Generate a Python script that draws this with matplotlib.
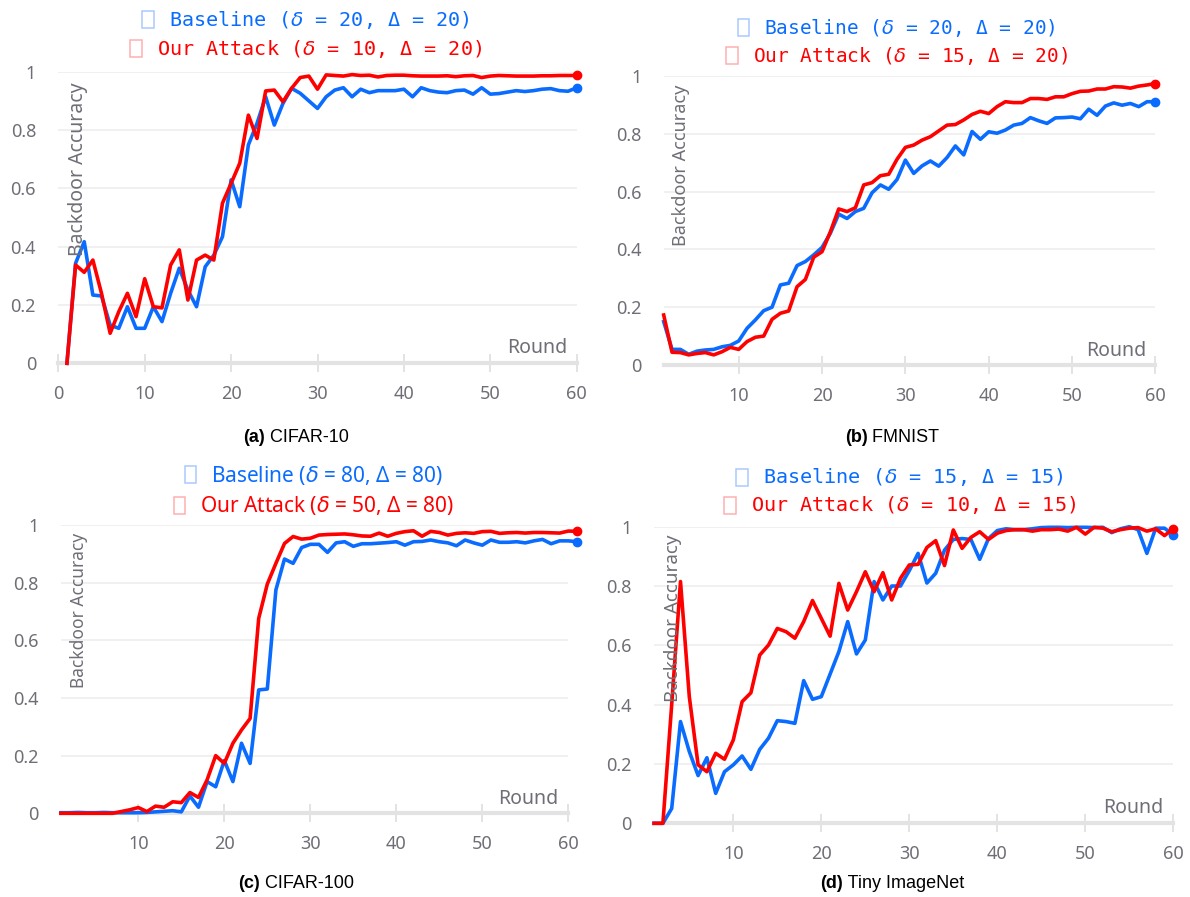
import matplotlib
matplotlib.use("Agg")
import matplotlib.pyplot as plt
from matplotlib.patches import Rectangle

# Backdoor accuracy per training round, four datasets
rounds_60 = list(range(1, 61))
rounds_61 = list(range(1, 62))

cifar10_baseline = [
    0.0, 0.343, 0.417, 0.234, 0.231, 0.131, 0.12, 0.194, 0.12, 0.12,
    0.194, 0.143, 0.24, 0.326, 0.251, 0.194, 0.331, 0.371, 0.434, 0.629,
    0.537, 0.749, 0.823, 0.914, 0.817, 0.891, 0.943, 0.926, 0.90, 0.874,
    0.914, 0.937, 0.945, 0.914, 0.94, 0.928, 0.935, 0.935, 0.935, 0.94,
    0.914, 0.945, 0.935, 0.93, 0.928, 0.935, 0.937, 0.923, 0.945, 0.923,
    0.925, 0.93, 0.935, 0.932, 0.935, 0.94, 0.942, 0.935, 0.933, 0.945,
]
cifar10_attack = [
    0.0, 0.337, 0.312, 0.354, 0.24, 0.103, 0.177, 0.24, 0.16, 0.29,
    0.194, 0.19, 0.337, 0.389, 0.217, 0.354, 0.371, 0.354, 0.549, 0.617,
    0.686, 0.851, 0.771, 0.934, 0.937, 0.897, 0.943, 0.98, 0.985, 0.94,
    0.989, 0.987, 0.985, 0.99, 0.987, 0.988, 0.982, 0.987, 0.988, 0.988,
    0.986, 0.985, 0.985, 0.985, 0.986, 0.983, 0.986, 0.987, 0.98, 0.985,
    0.987, 0.986, 0.985, 0.985, 0.985, 0.986, 0.986, 0.987, 0.987, 0.987,
]

fmnist_baseline = [
    0.15, 0.054, 0.054, 0.037, 0.048, 0.052, 0.054, 0.063, 0.068, 0.083,
    0.127, 0.156, 0.188, 0.2, 0.277, 0.283, 0.344, 0.358, 0.381, 0.407,
    0.456, 0.522, 0.507, 0.531, 0.542, 0.596, 0.623, 0.608, 0.642, 0.709,
    0.663, 0.689, 0.706, 0.688, 0.718, 0.758, 0.727, 0.808, 0.781, 0.807,
    0.802, 0.813, 0.83, 0.836, 0.856, 0.845, 0.836, 0.855, 0.856, 0.858,
    0.852, 0.885, 0.864, 0.896, 0.907, 0.899, 0.905, 0.894, 0.911, 0.911,
]
fmnist_attack = [
    0.173, 0.044, 0.043, 0.035, 0.04, 0.043, 0.035, 0.046, 0.061, 0.054,
    0.081, 0.096, 0.1, 0.158, 0.179, 0.187, 0.271, 0.296, 0.373, 0.392,
    0.461, 0.54, 0.531, 0.544, 0.623, 0.631, 0.655, 0.66, 0.712, 0.753,
    0.761, 0.778, 0.79, 0.81, 0.83, 0.832, 0.848, 0.867, 0.878, 0.87,
    0.894, 0.911, 0.908, 0.908, 0.922, 0.922, 0.919, 0.928, 0.928, 0.939,
    0.947, 0.948, 0.955, 0.955, 0.963, 0.962, 0.958, 0.965, 0.969, 0.974,
]

cifar100_baseline = [
    0.002, 0.002, 0.003, 0.002, 0.002, 0.003, 0.002, 0.002, 0.002, 0.002,
    0.003, 0.005, 0.007, 0.009, 0.005, 0.06, 0.021, 0.11, 0.092, 0.183,
    0.11, 0.243, 0.173, 0.428, 0.431, 0.775, 0.882, 0.867, 0.922, 0.933,
    0.933, 0.905, 0.938, 0.942, 0.926, 0.935, 0.935, 0.937, 0.939, 0.942,
    0.93, 0.942, 0.943, 0.948, 0.942, 0.938, 0.928, 0.948, 0.938, 0.93,
    0.948, 0.94, 0.94, 0.942, 0.938, 0.945, 0.95, 0.935, 0.945, 0.945,
    0.942,
]
cifar100_attack = [
    0.0, 0.0, 0.0, 0.0, 0.0, 0.0, 0.0, 0.006, 0.012, 0.02,
    0.006, 0.025, 0.021, 0.04, 0.037, 0.072, 0.055, 0.116, 0.2, 0.173,
    0.243, 0.289, 0.329, 0.676, 0.795, 0.867, 0.936, 0.96, 0.951, 0.954,
    0.965, 0.967, 0.968, 0.969, 0.966, 0.962, 0.961, 0.972, 0.961, 0.971,
    0.977, 0.98, 0.961, 0.978, 0.974, 0.965, 0.971, 0.973, 0.971, 0.977,
    0.978, 0.971, 0.973, 0.974, 0.972, 0.974, 0.974, 0.973, 0.972, 0.979,
    0.978,
]

tiny_baseline = [
    0.0, 0.0, 0.05, 0.343, 0.242, 0.161, 0.221, 0.101, 0.174, 0.197,
    0.227, 0.182, 0.249, 0.287, 0.346, 0.343, 0.337, 0.481, 0.418, 0.427,
    0.503, 0.579, 0.68, 0.571, 0.618, 0.815, 0.753, 0.8, 0.8, 0.852,
    0.91, 0.81, 0.843, 0.921, 0.957, 0.96, 0.957, 0.89, 0.96, 0.987,
    0.993, 0.99, 0.99, 0.993, 0.997, 0.998, 0.998, 0.997, 0.998, 0.998,
    0.997, 0.998, 0.98, 0.993, 1.0, 0.99, 0.91, 0.995, 0.995, 0.972,
]
tiny_attack = [
    0.0, 0.0, 0.4, 0.815, 0.427, 0.197, 0.174, 0.236, 0.216, 0.281,
    0.41, 0.44, 0.567, 0.601, 0.657, 0.646, 0.624, 0.68, 0.751, 0.691,
    0.631, 0.809, 0.719, 0.781, 0.848, 0.781, 0.845, 0.753, 0.826, 0.871,
    0.873, 0.93, 0.953, 0.869, 0.989, 0.927, 0.964, 0.983, 0.957, 0.978,
    0.987, 0.99, 0.99, 0.985, 0.99, 0.99, 0.992, 0.985, 0.998, 0.975,
    0.998, 0.995, 0.983, 0.99, 0.995, 0.997, 0.985, 0.993, 0.97, 0.993,
]

baseline_labels = [
    r"Baseline ($\delta$ = 20, Δ = 20)",
    r"Baseline ($\delta$ = 20, Δ = 20)",
    r"Baseline ($\delta$ = 80, Δ = 80)",
    r"Baseline ($\delta$ = 15, Δ = 15)",
]
attack_labels = [
    r"Our Attack ($\delta$ = 10, Δ = 20)",
    r"Our Attack ($\delta$ = 15, Δ = 20)",
    r"Our Attack ($\delta$ = 50, Δ = 80)",
    r"Our Attack ($\delta$ = 10, Δ = 15)",
]
captions = [("(a)", "CIFAR-10"), ("(b)", "FMNIST"),
            ("(c)", "CIFAR-100"), ("(d)", "Tiny ImageNet")]

W, H = 1190, 897
BLUE = "#0a6cff"
RED = "#ff0000"
GREY = "#6e6e76"

fig = plt.figure(figsize=(W / 100, H / 100), dpi=100)
fig.patch.set_facecolor("white")
renderer = fig.canvas.get_renderer()


def fx(x):
    return x / W


def fy(y):
    return 1 - y / H


def legend_line(xc, y, label, color, box_color, family, size):
    t = fig.text(0, fy(y), label, color=color, family=family, size=size,
                 ha="left", va="center")
    w = t.get_window_extent(renderer).width
    box_w, gap = 11.5, 15
    x0 = xc - (box_w + gap + w) / 2
    fig.patches.append(Rectangle((fx(x0), fy(y + 8.5)), box_w / W, 17 / H,
                                 transform=fig.transFigure, fill=False,
                                 edgecolor=box_color, lw=1.1))
    t.set_x(fx(x0 + box_w + gap))


def caption(xc, y, tag, name):
    t1 = fig.text(0, fy(y), tag, weight="bold", family="Liberation Sans",
                  size=13, ha="left", va="center")
    t2 = fig.text(0, fy(y), " " + name, family="Liberation Sans",
                  size=13, ha="left", va="center")
    w1 = t1.get_window_extent(renderer).width
    w2 = t2.get_window_extent(renderer).width
    x0 = xc - (w1 + w2) / 2
    t1.set_x(fx(x0))
    t2.set_x(fx(x0 + w1))


# pixel geometry of each panel: x of first/last round, y of 1.0 and 0.0
panels = [
    dict(x=rounds_60, base=cifar10_baseline, att=cifar10_attack, xmin=0,
         box=(58.3, 576.7, 71.7, 363.3), xticks=[0, 10, 20, 30, 40, 50, 60],
         leg=(306, 20, 49), mono=True, lsize=14.5,
         ylab=(78, 82, 14), rnd=(567, 348), cap=(296, 437)),
    dict(x=rounds_60, base=fmnist_baseline, att=fmnist_attack, xmin=1,
         box=(663.7, 1155.4, 76, 365), xticks=[10, 20, 30, 40, 50, 60],
         leg=(897, 28, 56), mono=True, lsize=14,
         ylab=(681, 85, 13), rnd=(1146, 351), cap=(892, 437)),
    dict(x=rounds_61, base=cifar100_baseline, att=cifar100_attack, xmin=1,
         box=(60.9, 568.3, 525, 813.3), xticks=[10, 20, 30, 40, 50, 60],
         leg=(314, 475, 505), mono=False, lsize=15,
         ylab=(79, 533, 12.5), rnd=(558, 799), cap=(296, 883)),
    dict(x=rounds_60, base=tiny_baseline, att=tiny_attack, xmin=1,
         box=(654.1, 1173.3, 526.7, 823.3), xticks=[10, 20, 30, 40, 50, 60],
         leg=(900, 477, 505), mono=True, lsize=14.5,
         ylab=(673, 535, 13.5), rnd=(1163, 808), cap=(892, 883)),
]

for i, p in enumerate(panels):
    x0, x1, y1, y0 = p["box"]
    ax = fig.add_axes([fx(x0), fy(y0), (x1 - x0) / W, (y0 - y1) / H])
    ax.set_xlim(p["xmin"], 60)
    ax.set_ylim(0, 1)

    for side in ["top", "right", "left"]:
        ax.spines[side].set_visible(False)
    ax.spines["bottom"].set_color("#e3e3e3")
    ax.spines["bottom"].set_linewidth(3)

    ax.set_yticks([0, 0.2, 0.4, 0.6, 0.8, 1])
    ax.set_yticklabels(["0", "0.2", "0.4", "0.6", "0.8", "1"])
    ax.set_xticks(p["xticks"])
    ax.yaxis.grid(True, color="#eeeeee", lw=1.2)
    ax.set_axisbelow(True)
    ax.tick_params(axis="y", length=0, pad=16, labelsize=13, labelcolor=GREY)
    ax.tick_params(axis="x", direction="inout", length=13, width=1.2,
                   color="#dedede", pad=9, labelsize=13, labelcolor=GREY)
    for lab in ax.get_xticklabels() + ax.get_yticklabels():
        lab.set_family("Noto Sans")

    ax.plot(p["x"], p["base"], color=BLUE, lw=2.6, clip_on=False, zorder=3)
    ax.plot(p["x"], p["att"], color=RED, lw=2.6, clip_on=False, zorder=4)
    ax.plot(p["x"][-1], p["base"][-1], "o", color=BLUE, ms=6,
            clip_on=False, zorder=3)
    ax.plot(p["x"][-1], p["att"][-1], "o", color=RED, ms=6,
            clip_on=False, zorder=4)

    lx, ly, lsz = p["ylab"]
    fig.text(fx(lx), fy(ly), "Backdoor Accuracy", rotation=90, color=GREY,
             family="Noto Sans", size=lsz, ha="center", va="top")
    rx, ry = p["rnd"]
    fig.text(fx(rx), fy(ry), "Round", color=GREY, family="Noto Sans",
             size=14, ha="right", va="center")

    fam = "DejaVu Sans Mono" if p["mono"] else "Noto Sans"
    lxc, l1, l2 = p["leg"]
    legend_line(lxc, l1, baseline_labels[i], BLUE, "#a9c9ff", fam, p["lsize"])
    legend_line(lxc, l2, attack_labels[i], RED, "#ffb0b0", fam, p["lsize"])

    cx, cy = p["cap"]
    caption(cx, cy, *captions[i])

fig.savefig("out.png", dpi=100, facecolor="white")
